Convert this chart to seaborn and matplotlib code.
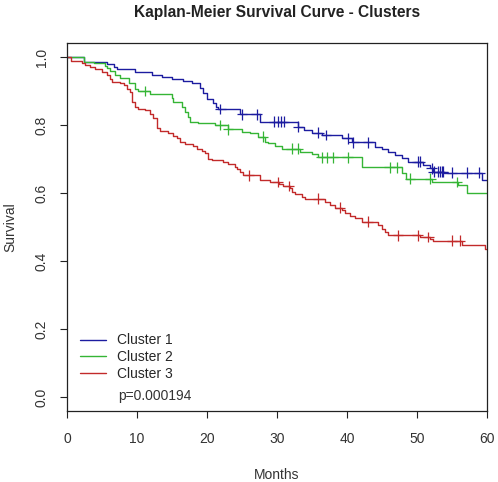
import numpy as np
import pandas as pd
import matplotlib
matplotlib.use("Agg")
import matplotlib.pyplot as plt
import seaborn as sns

# step times (months) and survival after each step
c1_time = [2.4, 5.7, 6.7, 7.1, 9.7, 12.1, 13.6, 15.0, 16.6, 17.9, 19.0, 19.4, 20.0, 20.9,
           21.3, 21.6, 24.7, 27.6, 33.0, 33.9, 35.0, 36.4, 39.3, 40.7, 44.0, 45.0, 45.9,
           46.9, 47.9, 48.7, 50.9, 51.9, 52.3, 53.9, 59.3]
c1_surv = [0.984, 0.979, 0.971, 0.965, 0.956, 0.947, 0.942, 0.935, 0.930, 0.923, 0.908,
           0.893, 0.876, 0.865, 0.854, 0.847, 0.832, 0.810, 0.795, 0.785, 0.778, 0.771,
           0.761, 0.749, 0.736, 0.729, 0.721, 0.712, 0.702, 0.692, 0.682, 0.673, 0.663,
           0.660, 0.640]
c1_cens = [21.9, 25.0, 27.1, 29.6, 30.1, 30.6, 31.0, 33.0, 35.9, 37.0, 40.1, 40.9, 43.0,
           50.1, 50.4, 52.1, 52.4, 53.0, 53.3, 53.6, 53.7, 55.0, 57.1, 58.9]

c2_time = [2.4, 3.9, 5.4, 5.7, 6.1, 6.9, 7.6, 8.9, 9.7, 10.1, 11.9, 15.0, 15.1, 16.4, 16.9,
           17.3, 17.6, 18.7, 21.1, 23.0, 25.0, 26.1, 27.3, 28.3, 28.7, 29.7, 30.7, 33.3,
           35.0, 35.9, 42.1, 47.9, 48.4, 52.1, 55.9, 57.1]
c2_surv = [0.986, 0.981, 0.974, 0.967, 0.960, 0.947, 0.937, 0.923, 0.905, 0.900, 0.891,
           0.881, 0.869, 0.854, 0.839, 0.825, 0.810, 0.805, 0.800, 0.788, 0.780, 0.776,
           0.766, 0.751, 0.746, 0.739, 0.731, 0.721, 0.715, 0.705, 0.676, 0.658, 0.643,
           0.633, 0.624, 0.601]
c2_cens = [11.1, 21.9, 23.0, 28.0, 32.1, 33.0, 36.4, 37.1, 38.0, 40.1, 46.1, 47.1, 49.0,
           51.9, 55.7]

c3_time = [0.6, 2.1, 2.6, 3.3, 4.0, 5.0, 5.7, 6.1, 6.4, 7.6, 8.1, 8.6, 9.0, 9.3, 9.7, 10.1,
           11.1, 11.9, 12.3, 12.9, 13.3, 14.4, 15.1, 15.7, 16.1, 16.9, 18.0, 18.6, 19.3,
           19.7, 20.1, 20.7, 22.3, 23.0, 24.0, 24.3, 24.7, 25.1, 27.6, 29.0, 30.3, 30.9,
           31.9, 32.1, 32.6, 33.6, 34.0, 36.9, 37.6, 38.3, 39.3, 39.7, 40.4, 41.1, 42.1,
           44.4, 45.0, 45.4, 45.9, 50.4, 51.9, 52.3, 56.4, 59.7]
c3_surv = [0.989, 0.983, 0.976, 0.972, 0.965, 0.957, 0.947, 0.934, 0.927, 0.923, 0.918,
           0.905, 0.897, 0.869, 0.854, 0.846, 0.844, 0.834, 0.820, 0.790, 0.783, 0.776,
           0.768, 0.761, 0.751, 0.744, 0.738, 0.731, 0.724, 0.717, 0.700, 0.697, 0.692,
           0.685, 0.677, 0.671, 0.663, 0.653, 0.640, 0.633, 0.626, 0.621, 0.614, 0.604,
           0.599, 0.589, 0.584, 0.574, 0.565, 0.557, 0.550, 0.542, 0.532, 0.526, 0.516,
           0.506, 0.496, 0.486, 0.476, 0.471, 0.464, 0.460, 0.447, 0.437]
c3_cens = [26.0, 30.1, 31.7, 35.9, 39.0, 43.0, 47.3, 50.1, 51.6, 55.0, 56.1]

clusters = ["Cluster 1", "Cluster 2", "Cluster 3"]
colors = ["#1c1ca0", "#35b535", "#c22a2a"]
p_text = "p=0.000194"


def build(name, times, survs, cens):
    t = np.r_[0.0, times, 60.0]
    s = np.r_[1.0, survs, survs[-1]]
    curve = pd.DataFrame({"time": t, "surv": s, "cluster": name})
    idx = np.searchsorted(t, cens, side="right") - 1
    marks = pd.DataFrame({"time": cens, "surv": s[idx], "cluster": name})
    return curve, marks


parts = [build(n, a, b, c) for n, a, b, c in
         zip(clusters, [c1_time, c2_time, c3_time], [c1_surv, c2_surv, c3_surv],
             [c1_cens, c2_cens, c3_cens])]
curves = pd.concat([p[0] for p in parts], ignore_index=True)
marks = pd.concat([p[1] for p in parts], ignore_index=True)

sns.set_theme(style="ticks")
plt.rcParams["font.family"] = ["Liberation Sans", "DejaVu Sans"]

fig = plt.figure(figsize=(4.98, 4.82), dpi=100)
ax = fig.add_axes([67 / 498, 1 - 411 / 482, 420 / 498, (411 - 43.4) / 482])

pal = dict(zip(clusters, colors))
sns.lineplot(data=curves, x="time", y="surv", hue="cluster", palette=pal,
             drawstyle="steps-post", estimator=None, sort=False, linewidth=1.0, ax=ax)
sns.scatterplot(data=marks, x="time", y="surv", hue="cluster", palette=pal, marker="+",
                s=60, linewidth=0.9, legend=False, ax=ax, zorder=3)

ax.set_xlim(0, 60)
ax.set_ylim(-0.04, 1.04)
ax.set_xticks([0, 10, 20, 30, 40, 50, 60])
ax.set_yticks([0.0, 0.2, 0.4, 0.6, 0.8, 1.0])
ax.set_yticklabels(["0.0", "0.2", "0.4", "0.6", "0.8", "1.0"], rotation=90, va="center")
ax.tick_params(axis="both", direction="out", length=5, width=0.8, colors="#222222",
               labelsize=10, labelcolor="#333333")
ax.tick_params(axis="x", pad=10)
ax.tick_params(axis="y", pad=8)
for sp in ax.spines.values():
    sp.set_visible(True)
    sp.set_color("#222222")
    sp.set_linewidth(0.9)

ax.set_xlabel("Months", fontsize=10, color="#333333", labelpad=16)
ax.set_ylabel("Survival", fontsize=10, color="#333333", labelpad=13)

fig.text(277 / 498, 1 - 13 / 482, "Kaplan-Meier Survival Curve - Clusters",
         ha="center", va="center", fontsize=11.2, fontweight="bold", color="#222222")

handles, labels = ax.get_legend_handles_labels()
ax.legend(handles, labels, loc="upper left", bbox_to_anchor=(0.0167, 0.226), frameon=False,
          fontsize=10, handlelength=1.9, labelspacing=0.2, handletextpad=0.8,
          borderaxespad=0)
fig.text(118 / 498, 1 - 396 / 482, p_text, fontsize=10, color="#333333", va="center")

fig.savefig("out.png", dpi=100)
